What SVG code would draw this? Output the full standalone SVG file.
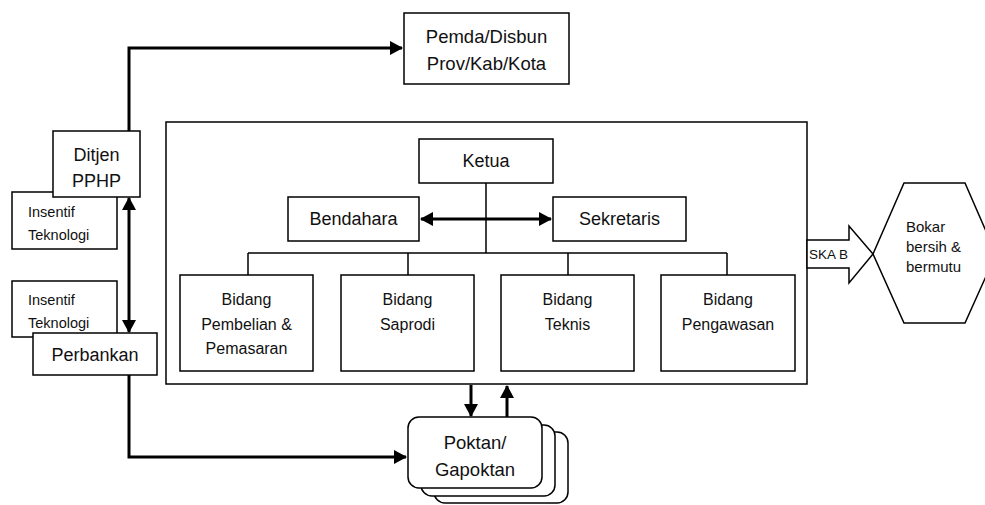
<svg xmlns="http://www.w3.org/2000/svg" width="985" height="505" viewBox="0 0 985 505">
<style>
.box{fill:#fff;stroke:#000;stroke-width:1.5}
.ln{fill:none;stroke:#000;stroke-width:1.5}
.ar{fill:none;stroke:#000;stroke-width:3}
text{font-family:"Liberation Sans",Arial,sans-serif;fill:#111;text-anchor:middle}
.t18{font-size:18px}.t16{font-size:16px}.t14{font-size:14.5px;text-anchor:start}
</style>
<defs>
<marker id="ah" markerWidth="10" markerHeight="10" refX="9" refY="5" orient="auto-start-reverse" markerUnits="userSpaceOnUse">
<path d="M0,0 L10,5 L0,10 Z" fill="#000"/>
</marker>
<marker id="ah2" markerWidth="14" markerHeight="14" refX="12" refY="7" orient="auto-start-reverse" markerUnits="userSpaceOnUse">
<path d="M0,0 L13,7 L0,14 Z" fill="#000"/>
</marker>
</defs>

<g id="insentif1"><rect class="box" x="12" y="192" width="105" height="57"/>
<text class="t14" x="28" y="217">Insentif</text><text class="t14" x="28" y="240">Teknologi</text></g>
<g id="insentif2"><rect class="box" x="12" y="281" width="105" height="56"/>
<text class="t14" x="28" y="305">Insentif</text><text class="t14" x="28" y="328">Teknologi</text></g>

<g id="connectors">
<path class="ar" d="M129,131 V48 H402" marker-end="url(#ah2)"/>
<path class="ar" d="M129,198 V332" marker-start="url(#ah2)" marker-end="url(#ah2)"/>
<path class="ar" d="M129,375 V457 H406" marker-end="url(#ah2)"/>
<path class="ar" d="M471,385 V416" marker-end="url(#ah2)"/>
<path class="ar" d="M507,417 V386" marker-end="url(#ah2)"/>
</g>

<g id="ditjen"><rect class="box" x="53" y="131" width="87" height="66"/>
<text class="t18" x="96.5" y="161">Ditjen</text><text class="t18" x="96.5" y="187">PPHP</text></g>
<g id="perbankan"><rect class="box" x="33" y="333" width="124" height="42"/>
<text class="t18" x="95" y="361">Perbankan</text></g>
<g id="pemda"><rect class="box" x="404" y="13" width="165" height="71"/>
<text class="t18" x="486.5" y="43" style="font-size:18.5px">Pemda/Disbun</text><text class="t18" x="486.5" y="70" style="font-size:18.5px">Prov/Kab/Kota</text></g>

<g id="organisasi"><rect class="box" x="166" y="122" width="641" height="262"/></g>
<g id="org-lines">
<path class="ln" d="M486,183 V253 M248,253 H727 M248,253 V275 M408,253 V275 M568,253 V275 M727,253 V275"/>
<path class="ar" d="M421,219 H551" marker-start="url(#ah2)" marker-end="url(#ah2)"/>
</g>
<g id="ketua"><rect class="box" x="419" y="139" width="134" height="44"/><text class="t18" x="486" y="167">Ketua</text></g>
<g id="bendahara"><rect class="box" x="288" y="197" width="131" height="44"/><text class="t18" x="353.5" y="225">Bendahara</text></g>
<g id="sekretaris"><rect class="box" x="553" y="197" width="133" height="44"/><text class="t18" x="619.5" y="225">Sekretaris</text></g>
<g id="bidang1"><rect class="box" x="180" y="275" width="133" height="96"/>
<text class="t16" x="246.5" y="305">Bidang</text><text class="t16" x="246.5" y="330">Pembelian &amp;</text><text class="t16" x="246.5" y="354">Pemasaran</text></g>
<g id="bidang2"><rect class="box" x="341" y="275" width="133" height="96"/>
<text class="t16" x="407.5" y="305">Bidang</text><text class="t16" x="407.5" y="330">Saprodi</text></g>
<g id="bidang3"><rect class="box" x="501" y="275" width="133" height="96"/>
<text class="t16" x="567.5" y="305">Bidang</text><text class="t16" x="567.5" y="330">Teknis</text></g>
<g id="bidang4"><rect class="box" x="661" y="275" width="134" height="96"/>
<text class="t16" x="728" y="305">Bidang</text><text class="t16" x="728" y="330">Pengawasan</text></g>

<g id="skab"><path class="box" d="M807,240 H849 V226 L873,254 L849,283 V268 H807 Z"/>
<text x="809" y="259" style="font-size:13.5px;text-anchor:start">SKA B</text></g>
<g id="bokar"><path class="box" d="M873,254 L904,183 H965 L996,254 L965,323 H904 Z"/>
<text x="906" y="232" style="font-size:15px;text-anchor:start">Bokar</text>
<text x="906" y="252" style="font-size:15px;text-anchor:start">bersih &amp;</text>
<text x="906" y="272" style="font-size:15px;text-anchor:start">bermutu</text></g>

<g id="poktan">
<rect class="box" x="434" y="432" width="134" height="71" rx="11"/>
<rect class="box" x="421" y="425" width="134" height="71" rx="11"/>
<rect class="box" x="408" y="417" width="134" height="71" rx="11"/>
<text class="t18" x="475" y="449" style="font-size:18.5px">Poktan/</text>
<text class="t18" x="475" y="476" style="font-size:18.5px">Gapoktan</text>
</g>
</svg>
